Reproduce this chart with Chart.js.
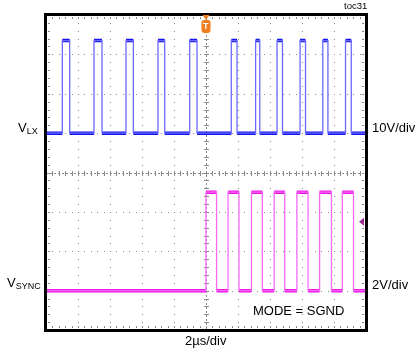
<!DOCTYPE html>
<html>
<head>
<meta charset="utf-8">
<script src="https://cdn.jsdelivr.net/npm/chart.js@4.4.1/dist/chart.umd.min.js"></script>
<style>
  html, body { margin: 0; padding: 0; background: #fff; }
  #wrap { position: relative; width: 416px; height: 353px; overflow: hidden; }
  canvas { position: absolute; left: 0; top: 0; }
  .lbl { position: absolute; font-family: "Liberation Sans", Arial, sans-serif; font-size: 13px; line-height: 13px; color: #000; white-space: nowrap; }
  .lbl sub { font-size: 9px; vertical-align: baseline; position: relative; top: 2px; }
  #toc { font-size: 9.5px; line-height: 10px; }
  #trigT { color: #fff; font-size: 9px; line-height: 9px; font-weight: bold; }
</style>
</head>
<body>
<div id="wrap">
  <canvas id="scope" width="416" height="353"></canvas>
  <div class="lbl" id="toc" style="left:344px; top:1px;">toc31</div>
  <div class="lbl" style="left:18px; top:121px;">V<sub>LX</sub></div>
  <div class="lbl" style="left:372px; top:121px;">10V/div</div>
  <div class="lbl" style="left:7px; top:276px;">V<sub>SYNC</sub></div>
  <div class="lbl" style="left:372px; top:278px;">2V/div</div>
  <div class="lbl" style="left:253px; top:304px;">MODE = SGND</div>
  <div class="lbl" style="left:185px; top:334px;">2µs/div</div>
  <div class="lbl" id="trigT" style="left:203px; top:22px;">T</div>
</div>
<script>
// Time base: 2us/div, 10 divisions, trigger at t = 0
const timeRange = [-10, 10];          // us
const usPerDiv = 2;

// V_LX switch node (10V/div, ground one division above centre)
const vlxRise = [-8.98, -7.00, -5.00, -3.00, -1.02, 1.58, 3.10, 4.44, 5.88, 7.30, 8.72]; // us
const vlxFall = [-8.52, -6.50, -4.54, -2.58, -0.56, 1.94, 3.36, 4.78, 6.22, 7.62, 9.08]; // us
const vlxLevels = [0, 23.5];          // V low, high
const vlxVoltsPerDiv = 10;
const vlxGroundDiv = 1;

// V_SYNC clock (2V/div, ground three divisions below centre)
const syncRise = [0.00, 1.38, 2.84, 4.26, 5.68, 7.10, 8.52]; // us
const syncFall = [0.66, 2.06, 3.52, 4.92, 6.38, 7.84, 9.22]; // us
const syncLevels = [0, 5.0];          // V low, high
const syncVoltsPerDiv = 2;
const syncGroundDiv = -3;

/**
 * Turn edge times into a square wave trace (in screen divisions)
 * Returns the full trace and the flat parts only (the noisy, thick bits)
 */
function buildTrace(rise, fall, levels, vPerDiv, groundDiv) {
  const lo = groundDiv + levels[0] / vPerDiv;
  const hi = groundDiv + levels[1] / vPerDiv;
  const full = [{ x: timeRange[0], y: lo }];
  const flats = [{ x: timeRange[0], y: lo }];
  rise.forEach((tr, i) => {
    const tf = fall[i];
    full.push({ x: tr, y: lo }, { x: tr, y: hi }, { x: tf, y: hi }, { x: tf, y: lo });
    flats.push({ x: tr, y: lo }, { x: tr, y: null },
               { x: tr, y: hi }, { x: tf, y: hi }, { x: tf, y: null },
               { x: tf, y: lo });
  });
  full.push({ x: timeRange[1], y: lo });
  flats.push({ x: timeRange[1], y: lo });
  return { full, flats };
}

const vlx = buildTrace(vlxRise, vlxFall, vlxLevels, vlxVoltsPerDiv, vlxGroundDiv);
const sync = buildTrace(syncRise, syncFall, syncLevels, syncVoltsPerDiv, syncGroundDiv);

const gridColor = '#8a8a8a';

// Scope graticule, frame and channel markers
const graticule = {
  id: 'graticule',
  beforeDatasetsDraw(chart) {
    const { ctx, chartArea: a, scales: { x, y } } = chart;
    ctx.save();
    ctx.fillStyle = gridColor;
    // dotted vertical lines
    for (let d = -4; d <= 4; d++) {
      const px = Math.round(x.getPixelForValue(d * usPerDiv));
      for (let m = -20; m <= 20; m++) {
        const py = Math.round(y.getPixelForValue(m / 5));
        if (d === 0) ctx.fillRect(px - 2, py, 5, 1);
        else ctx.fillRect(px, py, 1, 1);
      }
    }
    // dotted horizontal lines
    for (let d = -3; d <= 3; d++) {
      const py = Math.round(y.getPixelForValue(d));
      for (let m = -25; m <= 25; m++) {
        const px = Math.round(x.getPixelForValue(m / 5 * usPerDiv));
        if (d === 0) ctx.fillRect(px, py - 2, 1, 5);
        else ctx.fillRect(px, py, 1, 1);
      }
    }
    // centre lines (dashed)
    ctx.strokeStyle = gridColor;
    ctx.lineWidth = 1;
    ctx.setLineDash([2, 2]);
    const cx = Math.round(x.getPixelForValue(0)) + 0.5;
    const cy = Math.round(y.getPixelForValue(0)) + 0.5;
    ctx.beginPath();
    ctx.moveTo(cx, a.top); ctx.lineTo(cx, a.bottom);
    ctx.moveTo(a.left, cy); ctx.lineTo(a.right, cy);
    ctx.stroke();
    ctx.setLineDash([]);
    // minor ticks along the frame
    for (let m = -25; m <= 25; m++) {
      const px = Math.round(x.getPixelForValue(m / 5 * usPerDiv));
      ctx.fillRect(px, a.top + 2, 1, 2);
      ctx.fillRect(px, a.bottom - 4, 1, 2);
    }
    for (let m = -20; m <= 20; m++) {
      const py = Math.round(y.getPixelForValue(m / 5));
      ctx.fillRect(a.left + 2, py, 2, 1);
      ctx.fillRect(a.right - 4, py, 2, 1);
    }
    ctx.restore();
  },
  afterDraw(chart) {
    const { ctx, chartArea: a, scales: { x, y } } = chart;
    ctx.save();
    // frame
    ctx.strokeStyle = '#000';
    ctx.lineWidth = 3;
    ctx.strokeRect(a.left - 0.5, a.top - 0.5, a.right - a.left + 1, a.bottom - a.top + 1);
    // trigger marker
    const tx = x.getPixelForValue(0);
    ctx.fillStyle = '#f07d1e';
    ctx.beginPath();
    ctx.moveTo(tx - 3.5, a.top);
    ctx.lineTo(tx + 3.5, a.top);
    ctx.lineTo(tx, a.top + 5);
    ctx.closePath();
    ctx.fill();
    ctx.beginPath();
    ctx.roundRect(tx - 4.5, a.top + 5, 9, 13, 3);
    ctx.fill();
    // trigger level marker (right side, on SYNC channel)
    const ly = y.getPixelForValue(-1.25);
    ctx.fillStyle = '#a0289a';
    ctx.beginPath();
    ctx.moveTo(a.right - 7, ly);
    ctx.lineTo(a.right - 2, ly - 4);
    ctx.lineTo(a.right - 2, ly + 4);
    ctx.closePath();
    ctx.fill();
    ctx.restore();
  }
};

new Chart(document.getElementById('scope'), {
  type: 'line',
  data: {
    datasets: [
      { label: 'VSYNC edges', data: sync.full, borderColor: '#f46af4', borderWidth: 1.3 },
      { label: 'VSYNC', data: sync.flats, borderColor: '#ee12e6', borderWidth: 3.5, spanGaps: false },
      { label: 'VLX edges', data: vlx.full, borderColor: '#6a6aff', borderWidth: 1.3 },
      { label: 'VLX', data: vlx.flats, borderColor: '#1414f0', borderWidth: 3.5, spanGaps: false }
    ]
  },
  options: {
    responsive: false,
    animation: false,
    devicePixelRatio: 1,
    layout: { padding: { left: 46, right: 50, top: 15, bottom: 23 } },
    elements: { point: { radius: 0 }, line: { tension: 0, borderCapStyle: 'butt' } },
    plugins: { legend: { display: false }, tooltip: { enabled: false } },
    scales: {
      x: { type: 'linear', min: timeRange[0], max: timeRange[1], display: false },
      y: { min: -4, max: 4, display: false }
    }
  },
  plugins: [graticule]
});
</script>
</body>
</html>
